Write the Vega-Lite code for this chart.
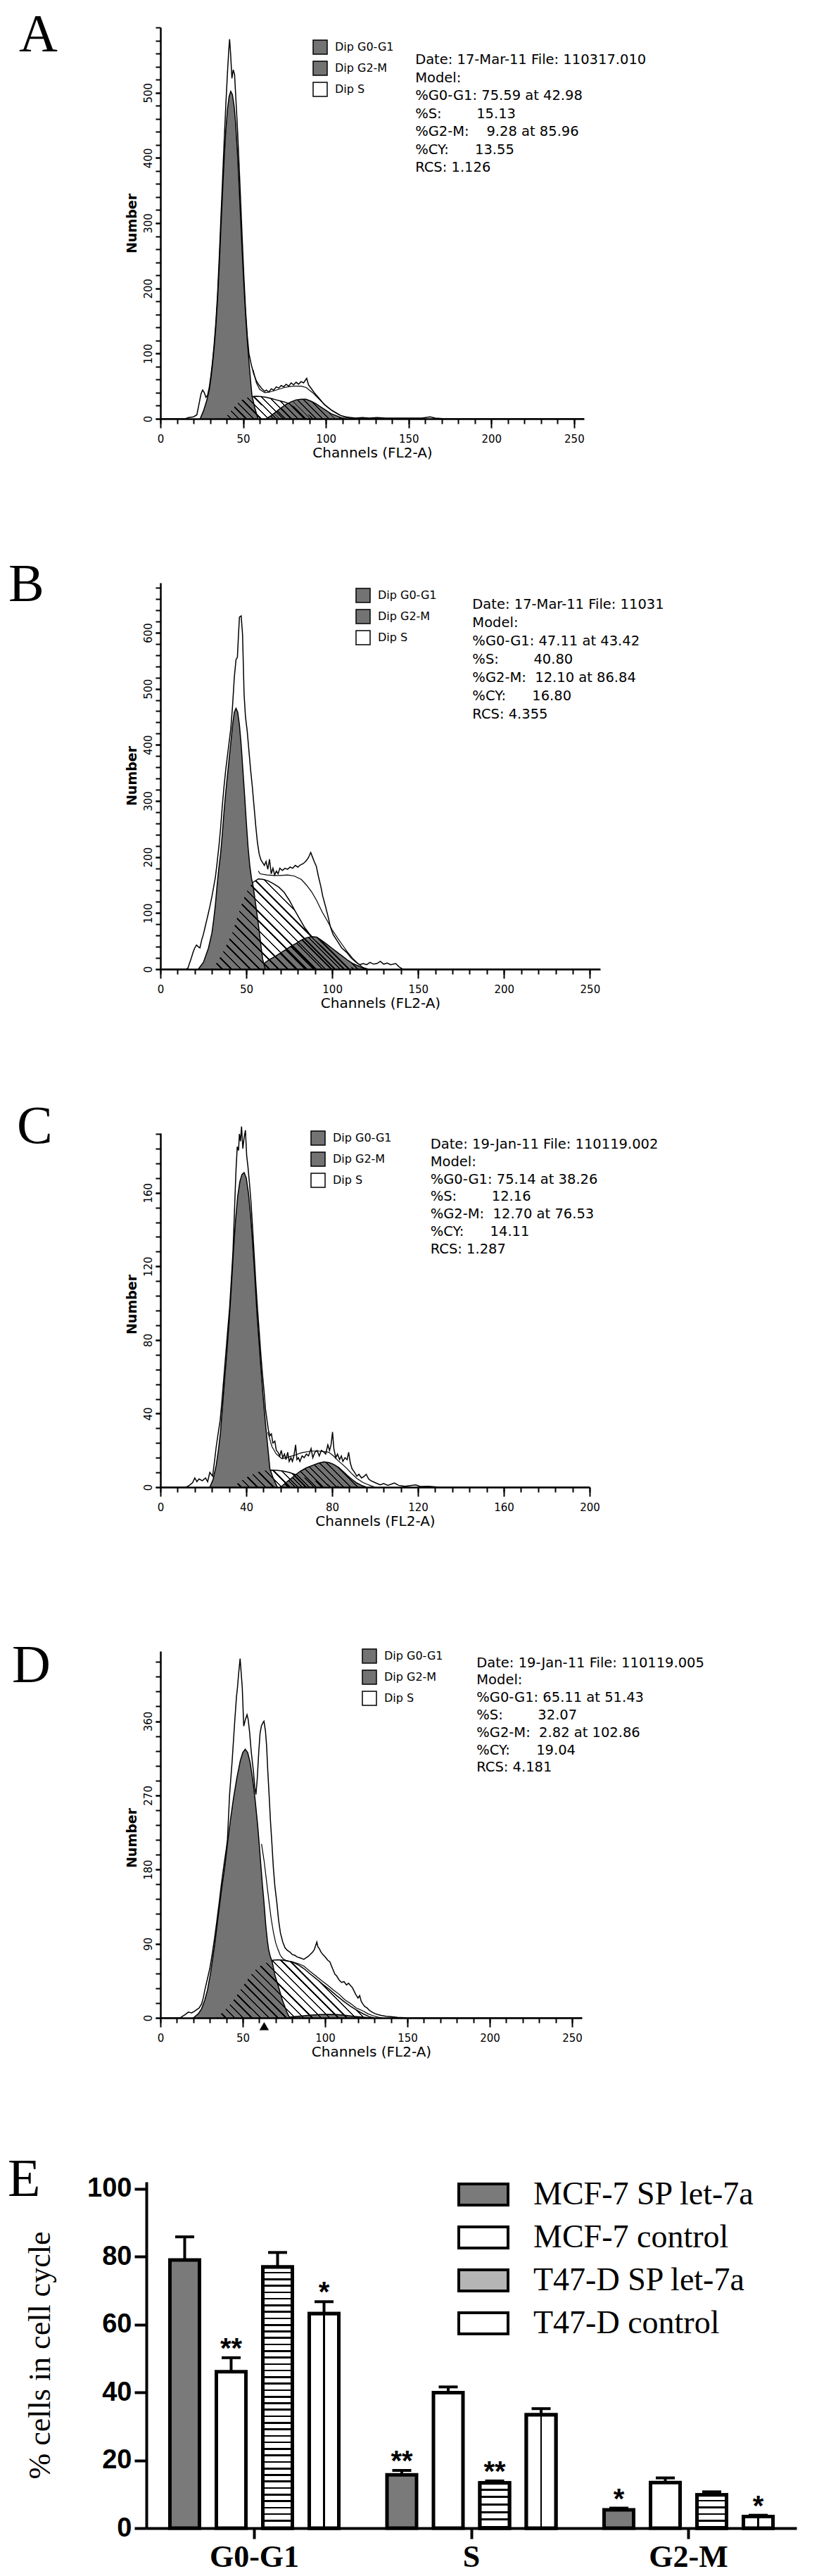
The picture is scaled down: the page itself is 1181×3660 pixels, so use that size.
{
"$schema": "https://vega.github.io/schema/vega-lite/v6.json",
"background": "white",
"padding": {"left": 11, "top": 12, "right": 5, "bottom": 0},
"bounds": "flush",
"spacing": 233,
"config": {"view": {"stroke": null}, "axis": {"domainColor": "black", "tickColor": "black", "labelColor": "black", "titleColor": "black", "grid": false}, "legend": {"labelColor": "black"}},
"resolve": {"scale": {"x": "independent", "y": "independent", "fill": "independent"}, "legend": {"fill": "independent"}, "axis": {"x": "independent", "y": "independent"}},
"datasets": {
"A_env": [{"ch":0,"n":0},{"ch":15,"n":0},{"ch":17,"n":2},{"ch":20,"n":3},{"ch":22,"n":6},{"ch":23.5,"n":25},{"ch":24.5,"n":38},{"ch":25.5,"n":44},{"ch":26.5,"n":40},{"ch":27.5,"n":33},{"ch":28.5,"n":36},{"ch":29.5,"n":48},{"ch":30.5,"n":66},{"ch":31.5,"n":88},{"ch":32.5,"n":115},{"ch":33.5,"n":148},{"ch":34.5,"n":190},{"ch":35.5,"n":245},{"ch":36.5,"n":305},{"ch":37.5,"n":365},{"ch":38.5,"n":425},{"ch":39.5,"n":480},{"ch":40.5,"n":530},{"ch":41.3,"n":565},{"ch":41.8,"n":582},{"ch":42.4,"n":560},{"ch":43.2,"n":522},{"ch":44,"n":535},{"ch":44.8,"n":528},{"ch":45.5,"n":495},{"ch":46.5,"n":448},{"ch":47.5,"n":392},{"ch":48.5,"n":333},{"ch":49.5,"n":272},{"ch":50.5,"n":215},{"ch":51.5,"n":165},{"ch":52.5,"n":127},{"ch":53.5,"n":100},{"ch":55,"n":82},{"ch":56.5,"n":68},{"ch":58,"n":58},{"ch":59.5,"n":52},{"ch":61,"n":47},{"ch":63,"n":42},{"ch":64,"n":44},{"ch":65.5,"n":41},{"ch":67,"n":46},{"ch":68.5,"n":44},{"ch":70,"n":49},{"ch":71.5,"n":47},{"ch":73,"n":51},{"ch":74.5,"n":49},{"ch":76,"n":53},{"ch":77.5,"n":50},{"ch":79,"n":55},{"ch":80.5,"n":52},{"ch":82,"n":56},{"ch":83.5,"n":53},{"ch":85,"n":57},{"ch":86.5,"n":55},{"ch":88.4,"n":62},{"ch":89.5,"n":52},{"ch":91,"n":47},{"ch":93,"n":40},{"ch":95,"n":34},{"ch":97,"n":28},{"ch":99,"n":22},{"ch":101,"n":18},{"ch":103,"n":14},{"ch":105,"n":11},{"ch":107,"n":8},{"ch":109,"n":5},{"ch":112,"n":3},{"ch":115,"n":2},{"ch":118,"n":1},{"ch":122,"n":2},{"ch":126,"n":1},{"ch":131,"n":2},{"ch":136,"n":1},{"ch":142,"n":1},{"ch":150,"n":1},{"ch":158,"n":1},{"ch":163,"n":3},{"ch":166,"n":1},{"ch":172,"n":0},{"ch":256,"n":0}],
"A_G1": [{"ch":24,"n":0},{"ch":26,"n":12},{"ch":28,"n":28},{"ch":29.5,"n":44},{"ch":30.5,"n":62},{"ch":31.5,"n":84},{"ch":32.5,"n":110},{"ch":33.5,"n":142},{"ch":34.5,"n":182},{"ch":35.5,"n":232},{"ch":36.5,"n":290},{"ch":37.5,"n":345},{"ch":38.5,"n":398},{"ch":39.5,"n":442},{"ch":40.5,"n":474},{"ch":41.5,"n":494},{"ch":42.5,"n":502},{"ch":43.5,"n":497},{"ch":44.5,"n":480},{"ch":45.5,"n":452},{"ch":46.5,"n":410},{"ch":47.5,"n":360},{"ch":48.5,"n":305},{"ch":49.5,"n":252},{"ch":50.5,"n":202},{"ch":51.5,"n":158},{"ch":52.5,"n":120},{"ch":53.5,"n":88},{"ch":54.5,"n":58},{"ch":55.3,"n":36},{"ch":57,"n":17},{"ch":59,"n":0}],
"A_S": [{"ch":38,"n":0},{"ch":40,"n":4},{"ch":42,"n":10},{"ch":44,"n":16},{"ch":46,"n":22},{"ch":48,"n":27},{"ch":50,"n":30},{"ch":52,"n":32},{"ch":55,"n":34},{"ch":58,"n":34.5},{"ch":61,"n":34},{"ch":64,"n":33},{"ch":67,"n":31},{"ch":70,"n":29},{"ch":73,"n":27},{"ch":76,"n":25},{"ch":80,"n":20},{"ch":84,"n":14},{"ch":88,"n":8},{"ch":92,"n":3},{"ch":96,"n":0}],
"A_G2": [{"ch":64,"n":0},{"ch":67,"n":5},{"ch":70,"n":11},{"ch":73,"n":17},{"ch":76,"n":22},{"ch":79,"n":26},{"ch":82,"n":29},{"ch":85,"n":30},{"ch":88,"n":30},{"ch":91,"n":27},{"ch":94,"n":23},{"ch":97,"n":18},{"ch":100,"n":13},{"ch":103,"n":8},{"ch":106,"n":5},{"ch":109,"n":2},{"ch":112,"n":0}],
"A_fit": [{"ch":56,"n":75},{"ch":58,"n":55},{"ch":60,"n":45},{"ch":63,"n":40},{"ch":66,"n":41},{"ch":70,"n":44},{"ch":75,"n":48},{"ch":80,"n":50},{"ch":85,"n":50},{"ch":88,"n":48},{"ch":92,"n":40},{"ch":96,"n":30},{"ch":100,"n":20},{"ch":104,"n":12},{"ch":108,"n":6},{"ch":112,"n":2},{"ch":116,"n":0}],
"B_env": [{"ch":0,"n":0},{"ch":15,"n":0},{"ch":16,"n":2},{"ch":18,"n":20},{"ch":19,"n":30},{"ch":20,"n":38},{"ch":21,"n":43},{"ch":22,"n":40},{"ch":23,"n":38},{"ch":24,"n":52},{"ch":25,"n":62},{"ch":26,"n":75},{"ch":27,"n":88},{"ch":28,"n":101},{"ch":29,"n":115},{"ch":30,"n":130},{"ch":31,"n":147},{"ch":32,"n":164},{"ch":33,"n":190},{"ch":34,"n":218},{"ch":35,"n":250},{"ch":36,"n":290},{"ch":37,"n":325},{"ch":38,"n":355},{"ch":39,"n":380},{"ch":40,"n":405},{"ch":41,"n":430},{"ch":42,"n":470},{"ch":43,"n":520},{"ch":44,"n":552},{"ch":44.8,"n":556},{"ch":45.5,"n":600},{"ch":46,"n":628},{"ch":47,"n":630},{"ch":47.8,"n":597},{"ch":48.7,"n":490},{"ch":49.5,"n":450},{"ch":50.5,"n":425},{"ch":51.5,"n":390},{"ch":52.5,"n":355},{"ch":53.5,"n":325},{"ch":54.5,"n":290},{"ch":55.5,"n":255},{"ch":56.5,"n":225},{"ch":57.5,"n":205},{"ch":58.5,"n":195},{"ch":59.5,"n":190},{"ch":60.5,"n":185},{"ch":61.5,"n":192},{"ch":62.5,"n":178},{"ch":63.5,"n":196},{"ch":64.5,"n":170},{"ch":65.5,"n":180},{"ch":66.5,"n":168},{"ch":67.5,"n":175},{"ch":68.5,"n":170},{"ch":69.5,"n":180},{"ch":71,"n":176},{"ch":72.5,"n":180},{"ch":74,"n":178},{"ch":75.5,"n":182},{"ch":77,"n":180},{"ch":78.5,"n":185},{"ch":80,"n":182},{"ch":81.5,"n":186},{"ch":83,"n":188},{"ch":84.5,"n":192},{"ch":86,"n":198},{"ch":87.5,"n":208},{"ch":88.5,"n":200},{"ch":89.5,"n":192},{"ch":90.7,"n":184},{"ch":92,"n":165},{"ch":93.4,"n":147},{"ch":94.5,"n":130},{"ch":96,"n":113},{"ch":97.5,"n":95},{"ch":98.9,"n":76},{"ch":100.5,"n":62},{"ch":103,"n":50},{"ch":105.5,"n":38},{"ch":108.4,"n":30},{"ch":111,"n":20},{"ch":114,"n":12},{"ch":116,"n":8},{"ch":118,"n":10},{"ch":120,"n":8},{"ch":122,"n":12},{"ch":124,"n":9},{"ch":126,"n":10},{"ch":128,"n":14},{"ch":130,"n":9},{"ch":132,"n":11},{"ch":134,"n":8},{"ch":137,"n":10},{"ch":139,"n":4},{"ch":141,"n":0},{"ch":256,"n":0}],
"B_G1": [{"ch":22,"n":0},{"ch":25,"n":12},{"ch":28,"n":38},{"ch":30,"n":65},{"ch":31,"n":88},{"ch":32,"n":115},{"ch":33,"n":150},{"ch":34,"n":180},{"ch":35,"n":205},{"ch":36,"n":240},{"ch":37,"n":280},{"ch":38,"n":315},{"ch":39,"n":345},{"ch":40,"n":375},{"ch":41,"n":405},{"ch":42,"n":435},{"ch":43,"n":458},{"ch":44,"n":465},{"ch":45,"n":458},{"ch":46,"n":435},{"ch":47,"n":400},{"ch":48,"n":355},{"ch":49,"n":310},{"ch":50,"n":262},{"ch":51,"n":218},{"ch":52,"n":185},{"ch":53,"n":162},{"ch":54,"n":148},{"ch":57,"n":80},{"ch":59.5,"n":18},{"ch":61,"n":0}],
"B_S": [{"ch":30,"n":0},{"ch":33,"n":12},{"ch":36,"n":28},{"ch":39,"n":46},{"ch":42,"n":66},{"ch":45,"n":95},{"ch":48,"n":122},{"ch":51,"n":143},{"ch":54,"n":155},{"ch":57,"n":161},{"ch":60,"n":160},{"ch":63,"n":157},{"ch":66,"n":152},{"ch":69,"n":146},{"ch":72,"n":137},{"ch":75,"n":123},{"ch":78,"n":106},{"ch":81,"n":90},{"ch":84,"n":74},{"ch":87,"n":62},{"ch":90,"n":52},{"ch":93,"n":44},{"ch":96,"n":36},{"ch":99,"n":29},{"ch":102,"n":22},{"ch":105,"n":15},{"ch":108,"n":9},{"ch":111,"n":4},{"ch":114,"n":0}],
"B_G2": [{"ch":58,"n":0},{"ch":61,"n":12},{"ch":64,"n":18},{"ch":67,"n":23},{"ch":70,"n":29},{"ch":73,"n":35},{"ch":76,"n":41},{"ch":79,"n":46},{"ch":82,"n":52},{"ch":85,"n":56},{"ch":88,"n":58},{"ch":91,"n":57},{"ch":94,"n":51},{"ch":97,"n":44},{"ch":100,"n":37},{"ch":103,"n":30},{"ch":106,"n":23},{"ch":109,"n":16},{"ch":112,"n":10},{"ch":115,"n":6},{"ch":118,"n":2},{"ch":121,"n":0}],
"B_fit": [{"ch":57,"n":175},{"ch":58,"n":170},{"ch":62,"n":168},{"ch":66,"n":167},{"ch":70,"n":167},{"ch":74,"n":168},{"ch":78,"n":166},{"ch":82,"n":160},{"ch":85,"n":150},{"ch":88,"n":138},{"ch":91,"n":122},{"ch":94,"n":103},{"ch":97,"n":87},{"ch":100,"n":70},{"ch":103,"n":56},{"ch":106,"n":43},{"ch":109,"n":30},{"ch":112,"n":19},{"ch":115,"n":10},{"ch":118,"n":3},{"ch":121,"n":0}],
"C_env": [{"ch":0,"n":0},{"ch":12,"n":0},{"ch":13.5,"n":1},{"ch":15,"n":2.5},{"ch":16,"n":5},{"ch":17,"n":3},{"ch":18,"n":4.5},{"ch":19.5,"n":3.5},{"ch":21,"n":5},{"ch":22,"n":3},{"ch":23,"n":8},{"ch":24.3,"n":6},{"ch":25.2,"n":14},{"ch":26,"n":22},{"ch":27,"n":30},{"ch":27.8,"n":36},{"ch":28.6,"n":46},{"ch":29.3,"n":56},{"ch":30,"n":66},{"ch":30.7,"n":76},{"ch":31.4,"n":86},{"ch":32.2,"n":97},{"ch":33,"n":112},{"ch":33.8,"n":128},{"ch":34.5,"n":150},{"ch":35.2,"n":172},{"ch":35.8,"n":185},{"ch":36.4,"n":183},{"ch":36.8,"n":192},{"ch":37.3,"n":188},{"ch":37.8,"n":196},{"ch":38.4,"n":184},{"ch":39,"n":190},{"ch":39.6,"n":194},{"ch":40.2,"n":180},{"ch":40.8,"n":174},{"ch":41.5,"n":165},{"ch":42.2,"n":155},{"ch":43,"n":140},{"ch":43.7,"n":126},{"ch":44.5,"n":110},{"ch":45.3,"n":96},{"ch":46,"n":85},{"ch":46.8,"n":72},{"ch":47.5,"n":62},{"ch":48.3,"n":52},{"ch":49,"n":42},{"ch":49.7,"n":36},{"ch":50.3,"n":31},{"ch":51,"n":28},{"ch":51.7,"n":29},{"ch":52.4,"n":24},{"ch":53.3,"n":25},{"ch":54,"n":20},{"ch":54.8,"n":19},{"ch":55.6,"n":17},{"ch":56.3,"n":20},{"ch":57,"n":16},{"ch":57.8,"n":18},{"ch":58.5,"n":15},{"ch":59.3,"n":19},{"ch":60,"n":14},{"ch":60.8,"n":16},{"ch":61.5,"n":14},{"ch":62.2,"n":17},{"ch":63,"n":23},{"ch":63.6,"n":15},{"ch":64.3,"n":16},{"ch":65,"n":14},{"ch":66,"n":17},{"ch":67,"n":16},{"ch":68,"n":18},{"ch":69,"n":17},{"ch":70.2,"n":21},{"ch":71,"n":16},{"ch":72,"n":19},{"ch":73,"n":20},{"ch":74,"n":17},{"ch":75,"n":20},{"ch":76.2,"n":19},{"ch":77,"n":18},{"ch":78,"n":23},{"ch":78.8,"n":20},{"ch":79.5,"n":23},{"ch":80.2,"n":30},{"ch":80.8,"n":21},{"ch":81.7,"n":16},{"ch":82.5,"n":18},{"ch":83.5,"n":15},{"ch":84.3,"n":17},{"ch":85,"n":14},{"ch":86,"n":16},{"ch":87,"n":15},{"ch":87.7,"n":19},{"ch":88.5,"n":13},{"ch":89.3,"n":10},{"ch":90.5,"n":8},{"ch":91.5,"n":6},{"ch":92.5,"n":7},{"ch":93.7,"n":5},{"ch":95,"n":6},{"ch":95.9,"n":7},{"ch":97,"n":4.5},{"ch":98,"n":3.6},{"ch":100,"n":2.5},{"ch":102.4,"n":1.3},{"ch":104,"n":2},{"ch":106,"n":1},{"ch":109,"n":2.3},{"ch":111,"n":1},{"ch":114,"n":0.5},{"ch":117,"n":1},{"ch":119,"n":1.2},{"ch":121,"n":0.4},{"ch":125,"n":0.5},{"ch":130,"n":0},{"ch":200,"n":0}],
"C_G1": [{"ch":23,"n":0},{"ch":24.5,"n":4},{"ch":26,"n":12},{"ch":27,"n":20},{"ch":28,"n":30},{"ch":29,"n":45},{"ch":30,"n":60},{"ch":31,"n":74},{"ch":32,"n":90},{"ch":33,"n":108},{"ch":34,"n":128},{"ch":35,"n":145},{"ch":36,"n":158},{"ch":37,"n":166},{"ch":38,"n":170},{"ch":39,"n":171},{"ch":40,"n":168},{"ch":41,"n":160},{"ch":42,"n":148},{"ch":43,"n":132},{"ch":44,"n":114},{"ch":45,"n":94},{"ch":46,"n":78},{"ch":47,"n":62},{"ch":48,"n":47},{"ch":49,"n":34},{"ch":50,"n":22},{"ch":51,"n":10},{"ch":52.5,"n":5},{"ch":54.5,"n":0}],
"C_S": [{"ch":33.5,"n":0},{"ch":36,"n":2},{"ch":39,"n":4.5},{"ch":42,"n":6.5},{"ch":45,"n":8},{"ch":48,"n":9},{"ch":51,"n":9.3},{"ch":54,"n":9.2},{"ch":57,"n":8.8},{"ch":60,"n":8},{"ch":63,"n":6.8},{"ch":66,"n":5.6},{"ch":69,"n":4.6},{"ch":72,"n":3.5},{"ch":75,"n":2.5},{"ch":78,"n":1.7},{"ch":81,"n":1},{"ch":84,"n":0.4},{"ch":86,"n":0}],
"C_G2": [{"ch":56,"n":0},{"ch":58.5,"n":2.5},{"ch":61,"n":4.8},{"ch":63,"n":6.8},{"ch":65.3,"n":8.7},{"ch":68,"n":10.5},{"ch":70.8,"n":11.8},{"ch":73.5,"n":13},{"ch":76.2,"n":13.8},{"ch":78.5,"n":13.4},{"ch":80.6,"n":12.5},{"ch":83,"n":10.8},{"ch":85,"n":8.7},{"ch":87,"n":6.5},{"ch":89.3,"n":4.2},{"ch":91.5,"n":2.3},{"ch":93.7,"n":1},{"ch":96,"n":0}],
"C_fit": [{"ch":50,"n":30},{"ch":52,"n":22},{"ch":54,"n":18},{"ch":56.6,"n":15.5},{"ch":60,"n":16.5},{"ch":63,"n":17.6},{"ch":66,"n":18.8},{"ch":69.7,"n":19.5},{"ch":72.5,"n":19.7},{"ch":75.1,"n":19.5},{"ch":78.4,"n":19},{"ch":80.6,"n":17},{"ch":82.8,"n":14.4},{"ch":85,"n":12.2},{"ch":87,"n":10},{"ch":89,"n":7.5},{"ch":91.5,"n":4.8},{"ch":94,"n":2.8},{"ch":96,"n":1.7},{"ch":98,"n":0.8},{"ch":100,"n":0}],
"D_env": [{"ch":0,"n":0},{"ch":12,"n":0},{"ch":13,"n":1.4},{"ch":15,"n":4},{"ch":17,"n":7},{"ch":19,"n":6},{"ch":20.7,"n":8},{"ch":22,"n":10},{"ch":23.5,"n":12},{"ch":25,"n":17},{"ch":26,"n":24},{"ch":27,"n":34},{"ch":28.5,"n":47},{"ch":30,"n":60},{"ch":31.5,"n":78},{"ch":32.9,"n":97},{"ch":34.3,"n":118},{"ch":35.7,"n":140},{"ch":37,"n":162},{"ch":38.6,"n":186},{"ch":40,"n":205},{"ch":40.7,"n":216},{"ch":42,"n":271},{"ch":43.5,"n":310},{"ch":45.2,"n":362},{"ch":46.2,"n":390},{"ch":46.8,"n":401},{"ch":47.6,"n":420},{"ch":48.4,"n":436},{"ch":49,"n":420},{"ch":49.7,"n":401},{"ch":50.6,"n":354},{"ch":51.6,"n":362},{"ch":52.6,"n":368},{"ch":53.3,"n":362},{"ch":54.2,"n":346},{"ch":55.2,"n":322},{"ch":56.5,"n":299},{"ch":57.3,"n":280},{"ch":58,"n":271},{"ch":58.8,"n":290},{"ch":59.7,"n":322},{"ch":60.5,"n":345},{"ch":61.3,"n":354},{"ch":62.2,"n":358},{"ch":62.9,"n":360},{"ch":63.8,"n":348},{"ch":64.5,"n":330},{"ch":65.2,"n":300},{"ch":66,"n":271},{"ch":66.8,"n":240},{"ch":67.7,"n":212},{"ch":68.6,"n":182},{"ch":69.5,"n":160},{"ch":70.7,"n":140},{"ch":71.8,"n":118},{"ch":72.9,"n":103},{"ch":74.3,"n":92},{"ch":75.7,"n":85},{"ch":77,"n":82},{"ch":78.5,"n":80},{"ch":80,"n":77},{"ch":81.5,"n":76},{"ch":83,"n":74},{"ch":84.5,"n":73},{"ch":86,"n":72},{"ch":87,"n":71},{"ch":88.5,"n":73},{"ch":90,"n":75},{"ch":91.5,"n":78},{"ch":92.5,"n":80},{"ch":93.5,"n":83},{"ch":94.3,"n":88},{"ch":95,"n":92},{"ch":95.7,"n":86},{"ch":96.5,"n":84},{"ch":97.5,"n":80},{"ch":98.6,"n":77},{"ch":100,"n":74},{"ch":101.6,"n":70},{"ch":102.9,"n":68},{"ch":104.5,"n":60},{"ch":106,"n":53},{"ch":107,"n":51},{"ch":108.5,"n":46},{"ch":110,"n":43},{"ch":111.5,"n":44},{"ch":113,"n":40},{"ch":114.3,"n":42},{"ch":115.5,"n":39},{"ch":116.5,"n":37},{"ch":117.5,"n":33},{"ch":118.6,"n":28.5},{"ch":120,"n":24},{"ch":121,"n":27},{"ch":122,"n":20},{"ch":122.9,"n":17},{"ch":124,"n":14},{"ch":125.5,"n":12},{"ch":127,"n":9},{"ch":128.6,"n":7},{"ch":130.5,"n":5},{"ch":132,"n":4},{"ch":134,"n":3},{"ch":137,"n":2},{"ch":140,"n":1.5},{"ch":144,"n":0.6},{"ch":150,"n":0},{"ch":256,"n":0}],
"D_G1": [{"ch":20,"n":0},{"ch":23,"n":5},{"ch":25,"n":11},{"ch":27,"n":22},{"ch":28.6,"n":34},{"ch":30.5,"n":55},{"ch":32.9,"n":88},{"ch":35,"n":122},{"ch":37,"n":154},{"ch":39,"n":182},{"ch":40.7,"n":211},{"ch":42.5,"n":240},{"ch":44.5,"n":268},{"ch":46.5,"n":292},{"ch":48.5,"n":312},{"ch":50,"n":322},{"ch":51.5,"n":326},{"ch":53,"n":322},{"ch":54.5,"n":310},{"ch":56,"n":290},{"ch":57.5,"n":265},{"ch":59,"n":235},{"ch":60,"n":211},{"ch":61,"n":185},{"ch":62,"n":160},{"ch":62.9,"n":140},{"ch":64,"n":112},{"ch":65,"n":93},{"ch":65.7,"n":83},{"ch":66.8,"n":74},{"ch":67.9,"n":68},{"ch":69.5,"n":52},{"ch":71.4,"n":40},{"ch":74,"n":22},{"ch":77,"n":6},{"ch":78.6,"n":0}],
"D_S": [{"ch":34,"n":0},{"ch":37.5,"n":6},{"ch":41.4,"n":14},{"ch":45,"n":23},{"ch":48.6,"n":34},{"ch":52,"n":44},{"ch":55.7,"n":54},{"ch":59,"n":61},{"ch":62.9,"n":65.5},{"ch":66,"n":68.5},{"ch":68.6,"n":70},{"ch":71.5,"n":70.5},{"ch":74.3,"n":70},{"ch":77,"n":69},{"ch":80,"n":68},{"ch":83.5,"n":64.5},{"ch":87,"n":60},{"ch":90.5,"n":54},{"ch":94.3,"n":48},{"ch":98.5,"n":41},{"ch":102.9,"n":34},{"ch":107,"n":27},{"ch":111.4,"n":20},{"ch":115.5,"n":14},{"ch":120,"n":8.5},{"ch":123.5,"n":4.5},{"ch":127,"n":1.4},{"ch":130,"n":0}],
"D_G2": [{"ch":74,"n":0},{"ch":80,"n":1.2},{"ch":86,"n":2.4},{"ch":92,"n":3.4},{"ch":97,"n":4},{"ch":102,"n":4.3},{"ch":107,"n":4},{"ch":112,"n":3.2},{"ch":117,"n":2},{"ch":122,"n":1},{"ch":128,"n":0}],
"D_fit": [{"ch":61.4,"n":211},{"ch":63,"n":190},{"ch":64.5,"n":165},{"ch":66,"n":140},{"ch":67.3,"n":120},{"ch":68.6,"n":104},{"ch":70,"n":91},{"ch":71.4,"n":83},{"ch":72.8,"n":76},{"ch":74.3,"n":72},{"ch":76,"n":70},{"ch":78,"n":69},{"ch":80,"n":68},{"ch":83.5,"n":66},{"ch":87,"n":63},{"ch":90.5,"n":57},{"ch":94.3,"n":51},{"ch":98,"n":45},{"ch":101.4,"n":40},{"ch":105,"n":34},{"ch":108.6,"n":28.5},{"ch":112,"n":22},{"ch":115.7,"n":17},{"ch":119,"n":12},{"ch":122.9,"n":8.5},{"ch":126,"n":5},{"ch":128.6,"n":3},{"ch":132,"n":1},{"ch":135,"n":0}],
"E": [
{"phase":"G0-G1","group":"MCF-7 SP let-7a","mean":79.0,"hi":85.8,"sig":""},
{"phase":"G0-G1","group":"MCF-7 control","mean":46.1,"hi":50.2,"sig":"**"},
{"phase":"G0-G1","group":"T47-D SP let-7a","mean":76.9,"hi":81.2,"sig":""},
{"phase":"G0-G1","group":"T47-D control","mean":63.2,"hi":66.7,"sig":"*"},
{"phase":"S","group":"MCF-7 SP let-7a","mean":15.7,"hi":17.0,"sig":"**"},
{"phase":"S","group":"MCF-7 control","mean":39.9,"hi":41.6,"sig":""},
{"phase":"S","group":"T47-D SP let-7a","mean":13.3,"hi":13.9,"sig":"**"},
{"phase":"S","group":"T47-D control","mean":33.4,"hi":35.2,"sig":""},
{"phase":"G2-M","group":"MCF-7 SP let-7a","mean":5.4,"hi":5.9,"sig":"*"},
{"phase":"G2-M","group":"MCF-7 control","mean":13.4,"hi":14.8,"sig":""},
{"phase":"G2-M","group":"T47-D SP let-7a","mean":9.8,"hi":10.7,"sig":""},
{"phase":"G2-M","group":"T47-D control","mean":3.4,"hi":3.8,"sig":"*"}
]
},
"vconcat": [
{
"width": 602, "height": 556,
"resolve": {"axis": {"x": "independent", "y": "independent"}},
"layer": [
{"data": {"name": "A_env"}, "mark": {"type": "area", "fill": "white", "stroke": "black", "strokeWidth": 1.5},
 "encoding": {
  "x": {"field": "ch", "type": "quantitative", "scale": {"domain": [0, 256], "nice": false, "zero": false},
        "axis": {"title": "Channels (FL2-A)", "values": [0,50,100,150,200,250], "labelFont": "DejaVu Sans", "labelFontSize": 15, "labelPadding": 8, "tickSize": 13, "tickWidth": 2, "domainWidth": 2.5, "titleFont": "DejaVu Sans", "titleFontSize": 20, "titleFontWeight": "normal", "titlePadding": 2, "labelFlush": false}},
  "y": {"field": "n", "type": "quantitative", "stack": null, "scale": {"domain": [0, 600], "nice": false},
        "axis": {"title": "Number", "values": [0,100,200,300,400,500], "labelAngle": 270, "labelFont": "DejaVu Sans", "labelFontSize": 15, "labelPadding": 3, "tickSize": 7, "tickWidth": 2, "domainWidth": 2.5, "titleFont": "DejaVu Sans", "titleFontSize": 19, "titleFontWeight": "bold", "titleX": -41, "titleY": 278, "titleAngle": 270, "titleBaseline": "middle", "labelFlush": false}}}},
{"data": {"name": "A_S"}, "mark": {"type": "area", "stroke": "black", "strokeWidth": 1.5},
 "encoding": {
  "x": {"field": "ch", "type": "quantitative", "axis": {"orient": "bottom", "values": [0,10,20,30,40,50,60,70,80,90,100,110,120,130,140,150,160,170,180,190,200,210,220,230,240,250], "labels": false, "domain": false, "title": null, "tickSize": 7, "tickWidth": 2}},
  "y": {"field": "n", "type": "quantitative", "stack": null, "axis": {"orient": "left", "values": [0,20,40,60,80,100,120,140,160,180,200,220,240,260,280,300,320,340,360,380,400,420,440,460,480,500,520,540,560,580,600], "labels": false, "domain": false, "title": null, "tickSize": 7, "tickWidth": 2}},
  "fill": {"datum": "Dip S", "type": "nominal", "scale": {"domain": ["Dip G0-G1", "Dip G2-M", "Dip S"], "range": ["#737373", "#737373", "white"]},
           "legend": {"orient": "none", "legendX": 216, "legendY": 17, "title": null, "symbolType": "square", "symbolSize": 400, "symbolStrokeColor": "black", "symbolStrokeWidth": 1.5, "labelFont": "DejaVu Sans", "labelFontSize": 16, "labelOffset": 10, "rowPadding": 4}}}},
{"data": {"name": "A_G2"}, "mark": {"type": "area", "stroke": "black", "strokeWidth": 1.5},
 "encoding": {"x": {"field": "ch", "type": "quantitative", "axis": null}, "y": {"field": "n", "type": "quantitative", "stack": null, "axis": null}, "fill": {"datum": "Dip G2-M", "type": "nominal"}}},
{"data": {"name": "A_G1"}, "mark": {"type": "area", "stroke": "black", "strokeWidth": 1.5},
 "encoding": {"x": {"field": "ch", "type": "quantitative", "axis": null}, "y": {"field": "n", "type": "quantitative", "stack": null, "axis": null}, "fill": {"datum": "Dip G0-G1", "type": "nominal"}}},
{"data": {"name": "A_S"}, "mark": {"type": "area", "fill": {"gradient": "linear", "x1": 0, "y1": 1, "x2": 1.17, "y2": 0.7255, "stops": [{"offset":0,"color":"#000"},{"offset":0.0125,"color":"#000"},{"offset":0.0125,"color":"rgba(0,0,0,0)"},{"offset":0.0625,"color":"rgba(0,0,0,0)"},{"offset":0.0625,"color":"#000"},{"offset":0.075,"color":"#000"},{"offset":0.075,"color":"rgba(0,0,0,0)"},{"offset":0.125,"color":"rgba(0,0,0,0)"},{"offset":0.125,"color":"#000"},{"offset":0.1375,"color":"#000"},{"offset":0.1375,"color":"rgba(0,0,0,0)"},{"offset":0.1875,"color":"rgba(0,0,0,0)"},{"offset":0.1875,"color":"#000"},{"offset":0.2,"color":"#000"},{"offset":0.2,"color":"rgba(0,0,0,0)"},{"offset":0.25,"color":"rgba(0,0,0,0)"},{"offset":0.25,"color":"#000"},{"offset":0.2625,"color":"#000"},{"offset":0.2625,"color":"rgba(0,0,0,0)"},{"offset":0.3125,"color":"rgba(0,0,0,0)"},{"offset":0.3125,"color":"#000"},{"offset":0.325,"color":"#000"},{"offset":0.325,"color":"rgba(0,0,0,0)"},{"offset":0.375,"color":"rgba(0,0,0,0)"},{"offset":0.375,"color":"#000"},{"offset":0.3875,"color":"#000"},{"offset":0.3875,"color":"rgba(0,0,0,0)"},{"offset":0.4375,"color":"rgba(0,0,0,0)"},{"offset":0.4375,"color":"#000"},{"offset":0.45,"color":"#000"},{"offset":0.45,"color":"rgba(0,0,0,0)"},{"offset":0.5,"color":"rgba(0,0,0,0)"},{"offset":0.5,"color":"#000"},{"offset":0.5125,"color":"#000"},{"offset":0.5125,"color":"rgba(0,0,0,0)"},{"offset":0.5625,"color":"rgba(0,0,0,0)"},{"offset":0.5625,"color":"#000"},{"offset":0.575,"color":"#000"},{"offset":0.575,"color":"rgba(0,0,0,0)"},{"offset":0.625,"color":"rgba(0,0,0,0)"},{"offset":0.625,"color":"#000"},{"offset":0.6375,"color":"#000"},{"offset":0.6375,"color":"rgba(0,0,0,0)"},{"offset":0.6875,"color":"rgba(0,0,0,0)"},{"offset":0.6875,"color":"#000"},{"offset":0.7,"color":"#000"},{"offset":0.7,"color":"rgba(0,0,0,0)"},{"offset":0.75,"color":"rgba(0,0,0,0)"},{"offset":0.75,"color":"#000"},{"offset":0.7625,"color":"#000"},{"offset":0.7625,"color":"rgba(0,0,0,0)"},{"offset":0.8125,"color":"rgba(0,0,0,0)"},{"offset":0.8125,"color":"#000"},{"offset":0.825,"color":"#000"},{"offset":0.825,"color":"rgba(0,0,0,0)"},{"offset":0.875,"color":"rgba(0,0,0,0)"},{"offset":0.875,"color":"#000"},{"offset":0.8875,"color":"#000"},{"offset":0.8875,"color":"rgba(0,0,0,0)"},{"offset":0.9375,"color":"rgba(0,0,0,0)"},{"offset":0.9375,"color":"#000"},{"offset":0.95,"color":"#000"},{"offset":0.95,"color":"rgba(0,0,0,0)"},{"offset":1,"color":"rgba(0,0,0,0)"}]}},
 "encoding": {"x": {"field": "ch", "type": "quantitative", "axis": null}, "y": {"field": "n", "type": "quantitative", "stack": null, "axis": null}}},
{"data": {"name": "A_G2"}, "mark": {"type": "area", "fill": {"gradient": "linear", "x1": 0, "y1": 1, "x2": 1.175, "y2": 0.711, "stops": [{"offset":0,"color":"#000"},{"offset":0.0125,"color":"#000"},{"offset":0.0125,"color":"rgba(0,0,0,0)"},{"offset":0.0625,"color":"rgba(0,0,0,0)"},{"offset":0.0625,"color":"#000"},{"offset":0.075,"color":"#000"},{"offset":0.075,"color":"rgba(0,0,0,0)"},{"offset":0.125,"color":"rgba(0,0,0,0)"},{"offset":0.125,"color":"#000"},{"offset":0.1375,"color":"#000"},{"offset":0.1375,"color":"rgba(0,0,0,0)"},{"offset":0.1875,"color":"rgba(0,0,0,0)"},{"offset":0.1875,"color":"#000"},{"offset":0.2,"color":"#000"},{"offset":0.2,"color":"rgba(0,0,0,0)"},{"offset":0.25,"color":"rgba(0,0,0,0)"},{"offset":0.25,"color":"#000"},{"offset":0.2625,"color":"#000"},{"offset":0.2625,"color":"rgba(0,0,0,0)"},{"offset":0.3125,"color":"rgba(0,0,0,0)"},{"offset":0.3125,"color":"#000"},{"offset":0.325,"color":"#000"},{"offset":0.325,"color":"rgba(0,0,0,0)"},{"offset":0.375,"color":"rgba(0,0,0,0)"},{"offset":0.375,"color":"#000"},{"offset":0.3875,"color":"#000"},{"offset":0.3875,"color":"rgba(0,0,0,0)"},{"offset":0.4375,"color":"rgba(0,0,0,0)"},{"offset":0.4375,"color":"#000"},{"offset":0.45,"color":"#000"},{"offset":0.45,"color":"rgba(0,0,0,0)"},{"offset":0.5,"color":"rgba(0,0,0,0)"},{"offset":0.5,"color":"#000"},{"offset":0.5125,"color":"#000"},{"offset":0.5125,"color":"rgba(0,0,0,0)"},{"offset":0.5625,"color":"rgba(0,0,0,0)"},{"offset":0.5625,"color":"#000"},{"offset":0.575,"color":"#000"},{"offset":0.575,"color":"rgba(0,0,0,0)"},{"offset":0.625,"color":"rgba(0,0,0,0)"},{"offset":0.625,"color":"#000"},{"offset":0.6375,"color":"#000"},{"offset":0.6375,"color":"rgba(0,0,0,0)"},{"offset":0.6875,"color":"rgba(0,0,0,0)"},{"offset":0.6875,"color":"#000"},{"offset":0.7,"color":"#000"},{"offset":0.7,"color":"rgba(0,0,0,0)"},{"offset":0.75,"color":"rgba(0,0,0,0)"},{"offset":0.75,"color":"#000"},{"offset":0.7625,"color":"#000"},{"offset":0.7625,"color":"rgba(0,0,0,0)"},{"offset":0.8125,"color":"rgba(0,0,0,0)"},{"offset":0.8125,"color":"#000"},{"offset":0.825,"color":"#000"},{"offset":0.825,"color":"rgba(0,0,0,0)"},{"offset":0.875,"color":"rgba(0,0,0,0)"},{"offset":0.875,"color":"#000"},{"offset":0.8875,"color":"#000"},{"offset":0.8875,"color":"rgba(0,0,0,0)"},{"offset":0.9375,"color":"rgba(0,0,0,0)"},{"offset":0.9375,"color":"#000"},{"offset":0.95,"color":"#000"},{"offset":0.95,"color":"rgba(0,0,0,0)"},{"offset":1,"color":"rgba(0,0,0,0)"}]}},
 "encoding": {"x": {"field": "ch", "type": "quantitative", "axis": null}, "y": {"field": "n", "type": "quantitative", "stack": null, "axis": null}}},
{"data": {"name": "A_fit"}, "mark": {"type": "line", "color": "black", "strokeWidth": 1.2},
 "encoding": {"x": {"field": "ch", "type": "quantitative", "axis": null}, "y": {"field": "n", "type": "quantitative", "stack": null, "axis": null}}},
{"data": {"values": [{}]}, "mark": {"type": "text", "text": "A", "align": "left", "baseline": "alphabetic", "font": "Liberation Serif", "fontSize": 76, "color": "black"},
 "encoding": {"x": {"datum": -85.5, "axis": null}, "y": {"datum": 563, "axis": null}}},
{"data": {"values": [{}]}, "mark": {"type": "text", "align": "left", "baseline": "top", "font": "DejaVu Sans", "fontSize": 19.5, "lineHeight": 25.5, "color": "black",
  "text": ["Date: 17-Mar-11 File: 110317.010", "Model:", "\u00a0%G0-G1: 75.59 at 42.98", "\u00a0%S:\u00a0\u00a0\u00a0\u00a0\u00a0\u00a0\u00a0\u00a015.13", "\u00a0%G2-M:\u00a0\u00a0\u00a0\u00a09.28 at 85.96", "\u00a0%CY:\u00a0\u00a0\u00a0\u00a0\u00a0\u00a013.55", "RCS: 1.126"]},
 "encoding": {"x": {"datum": 154, "axis": null}, "y": {"datum": 560, "axis": null}}}
]
},
{
"width": 625, "height": 549,
"resolve": {"axis": {"x": "independent", "y": "independent"}},
"layer": [
{"data": {"name": "B_env"}, "mark": {"type": "area", "fill": "white", "stroke": "black", "strokeWidth": 1.5},
 "encoding": {
  "x": {"field": "ch", "type": "quantitative", "scale": {"domain": [0, 256], "nice": false, "zero": false},
        "axis": {"title": "Channels (FL2-A)", "values": [0,50,100,150,200,250], "labelFont": "DejaVu Sans", "labelFontSize": 15, "labelPadding": 8, "tickSize": 13, "tickWidth": 2, "domainWidth": 2.5, "titleFont": "DejaVu Sans", "titleFontSize": 20, "titleFontWeight": "normal", "titlePadding": 2, "labelFlush": false}},
  "y": {"field": "n", "type": "quantitative", "stack": null, "scale": {"domain": [0, 689], "nice": false},
        "axis": {"title": "Number", "values": [0,100,200,300,400,500,600], "labelAngle": 270, "labelFont": "DejaVu Sans", "labelFontSize": 15, "labelPadding": 3, "tickSize": 7, "tickWidth": 2, "domainWidth": 2.5, "titleFont": "DejaVu Sans", "titleFontSize": 19, "titleFontWeight": "bold", "titleX": -41, "titleY": 274, "titleAngle": 270, "titleBaseline": "middle", "labelFlush": false}}}},
{"data": {"name": "B_S"}, "mark": {"type": "area", "stroke": "black", "strokeWidth": 1.5},
 "encoding": {
  "x": {"field": "ch", "type": "quantitative", "axis": {"orient": "bottom", "values": [0,10,20,30,40,50,60,70,80,90,100,110,120,130,140,150,160,170,180,190,200,210,220,230,240,250], "labels": false, "domain": false, "title": null, "tickSize": 7, "tickWidth": 2}},
  "y": {"field": "n", "type": "quantitative", "stack": null, "axis": {"orient": "left", "values": [0,20,40,60,80,100,120,140,160,180,200,220,240,260,280,300,320,340,360,380,400,420,440,460,480,500,520,540,560,580,600,620,640,660,680], "labels": false, "domain": false, "title": null, "tickSize": 7, "tickWidth": 2}},
  "fill": {"datum": "Dip S", "type": "nominal", "scale": {"domain": ["Dip G0-G1", "Dip G2-M", "Dip S"], "range": ["#737373", "#737373", "white"]},
           "legend": {"orient": "none", "legendX": 277, "legendY": 7, "title": null, "symbolType": "square", "symbolSize": 400, "symbolStrokeColor": "black", "symbolStrokeWidth": 1.5, "labelFont": "DejaVu Sans", "labelFontSize": 16, "labelOffset": 10, "rowPadding": 4}}}},
{"data": {"name": "B_G2"}, "mark": {"type": "area", "stroke": "black", "strokeWidth": 1.5},
 "encoding": {"x": {"field": "ch", "type": "quantitative", "axis": null}, "y": {"field": "n", "type": "quantitative", "stack": null, "axis": null}, "fill": {"datum": "Dip G2-M", "type": "nominal"}}},
{"data": {"name": "B_G1"}, "mark": {"type": "area", "stroke": "black", "strokeWidth": 1.5},
 "encoding": {"x": {"field": "ch", "type": "quantitative", "axis": null}, "y": {"field": "n", "type": "quantitative", "stack": null, "axis": null}, "fill": {"datum": "Dip G0-G1", "type": "nominal"}}},
{"data": {"name": "B_S"}, "mark": {"type": "area", "fill": {"gradient": "linear", "x1": 0, "y1": 1, "x2": 1.168, "y2": 0.269, "stops": [{"offset":0,"color":"#000"},{"offset":0.008,"color":"#000"},{"offset":0.008,"color":"rgba(0,0,0,0)"},{"offset":0.04,"color":"rgba(0,0,0,0)"},{"offset":0.04,"color":"#000"},{"offset":0.048,"color":"#000"},{"offset":0.048,"color":"rgba(0,0,0,0)"},{"offset":0.08,"color":"rgba(0,0,0,0)"},{"offset":0.08,"color":"#000"},{"offset":0.088,"color":"#000"},{"offset":0.088,"color":"rgba(0,0,0,0)"},{"offset":0.12,"color":"rgba(0,0,0,0)"},{"offset":0.12,"color":"#000"},{"offset":0.128,"color":"#000"},{"offset":0.128,"color":"rgba(0,0,0,0)"},{"offset":0.16,"color":"rgba(0,0,0,0)"},{"offset":0.16,"color":"#000"},{"offset":0.168,"color":"#000"},{"offset":0.168,"color":"rgba(0,0,0,0)"},{"offset":0.2,"color":"rgba(0,0,0,0)"},{"offset":0.2,"color":"#000"},{"offset":0.208,"color":"#000"},{"offset":0.208,"color":"rgba(0,0,0,0)"},{"offset":0.24,"color":"rgba(0,0,0,0)"},{"offset":0.24,"color":"#000"},{"offset":0.248,"color":"#000"},{"offset":0.248,"color":"rgba(0,0,0,0)"},{"offset":0.28,"color":"rgba(0,0,0,0)"},{"offset":0.28,"color":"#000"},{"offset":0.288,"color":"#000"},{"offset":0.288,"color":"rgba(0,0,0,0)"},{"offset":0.32,"color":"rgba(0,0,0,0)"},{"offset":0.32,"color":"#000"},{"offset":0.328,"color":"#000"},{"offset":0.328,"color":"rgba(0,0,0,0)"},{"offset":0.36,"color":"rgba(0,0,0,0)"},{"offset":0.36,"color":"#000"},{"offset":0.368,"color":"#000"},{"offset":0.368,"color":"rgba(0,0,0,0)"},{"offset":0.4,"color":"rgba(0,0,0,0)"},{"offset":0.4,"color":"#000"},{"offset":0.408,"color":"#000"},{"offset":0.408,"color":"rgba(0,0,0,0)"},{"offset":0.44,"color":"rgba(0,0,0,0)"},{"offset":0.44,"color":"#000"},{"offset":0.448,"color":"#000"},{"offset":0.448,"color":"rgba(0,0,0,0)"},{"offset":0.48,"color":"rgba(0,0,0,0)"},{"offset":0.48,"color":"#000"},{"offset":0.488,"color":"#000"},{"offset":0.488,"color":"rgba(0,0,0,0)"},{"offset":0.52,"color":"rgba(0,0,0,0)"},{"offset":0.52,"color":"#000"},{"offset":0.528,"color":"#000"},{"offset":0.528,"color":"rgba(0,0,0,0)"},{"offset":0.56,"color":"rgba(0,0,0,0)"},{"offset":0.56,"color":"#000"},{"offset":0.568,"color":"#000"},{"offset":0.568,"color":"rgba(0,0,0,0)"},{"offset":0.6,"color":"rgba(0,0,0,0)"},{"offset":0.6,"color":"#000"},{"offset":0.608,"color":"#000"},{"offset":0.608,"color":"rgba(0,0,0,0)"},{"offset":0.64,"color":"rgba(0,0,0,0)"},{"offset":0.64,"color":"#000"},{"offset":0.648,"color":"#000"},{"offset":0.648,"color":"rgba(0,0,0,0)"},{"offset":0.68,"color":"rgba(0,0,0,0)"},{"offset":0.68,"color":"#000"},{"offset":0.688,"color":"#000"},{"offset":0.688,"color":"rgba(0,0,0,0)"},{"offset":0.72,"color":"rgba(0,0,0,0)"},{"offset":0.72,"color":"#000"},{"offset":0.728,"color":"#000"},{"offset":0.728,"color":"rgba(0,0,0,0)"},{"offset":0.76,"color":"rgba(0,0,0,0)"},{"offset":0.76,"color":"#000"},{"offset":0.768,"color":"#000"},{"offset":0.768,"color":"rgba(0,0,0,0)"},{"offset":0.8,"color":"rgba(0,0,0,0)"},{"offset":0.8,"color":"#000"},{"offset":0.808,"color":"#000"},{"offset":0.808,"color":"rgba(0,0,0,0)"},{"offset":0.84,"color":"rgba(0,0,0,0)"},{"offset":0.84,"color":"#000"},{"offset":0.848,"color":"#000"},{"offset":0.848,"color":"rgba(0,0,0,0)"},{"offset":0.88,"color":"rgba(0,0,0,0)"},{"offset":0.88,"color":"#000"},{"offset":0.888,"color":"#000"},{"offset":0.888,"color":"rgba(0,0,0,0)"},{"offset":0.92,"color":"rgba(0,0,0,0)"},{"offset":0.92,"color":"#000"},{"offset":0.928,"color":"#000"},{"offset":0.928,"color":"rgba(0,0,0,0)"},{"offset":0.96,"color":"rgba(0,0,0,0)"},{"offset":0.96,"color":"#000"},{"offset":0.968,"color":"#000"},{"offset":0.968,"color":"rgba(0,0,0,0)"},{"offset":1,"color":"rgba(0,0,0,0)"}]}},
 "encoding": {"x": {"field": "ch", "type": "quantitative", "axis": null}, "y": {"field": "n", "type": "quantitative", "stack": null, "axis": null}}},
{"data": {"name": "B_G2"}, "mark": {"type": "area", "fill": {"gradient": "linear", "x1": 0, "y1": 1, "x2": 1.193, "y2": 0.641, "stops": [{"offset":0,"color":"#000"},{"offset":0.0125,"color":"#000"},{"offset":0.0125,"color":"rgba(0,0,0,0)"},{"offset":0.0625,"color":"rgba(0,0,0,0)"},{"offset":0.0625,"color":"#000"},{"offset":0.075,"color":"#000"},{"offset":0.075,"color":"rgba(0,0,0,0)"},{"offset":0.125,"color":"rgba(0,0,0,0)"},{"offset":0.125,"color":"#000"},{"offset":0.1375,"color":"#000"},{"offset":0.1375,"color":"rgba(0,0,0,0)"},{"offset":0.1875,"color":"rgba(0,0,0,0)"},{"offset":0.1875,"color":"#000"},{"offset":0.2,"color":"#000"},{"offset":0.2,"color":"rgba(0,0,0,0)"},{"offset":0.25,"color":"rgba(0,0,0,0)"},{"offset":0.25,"color":"#000"},{"offset":0.2625,"color":"#000"},{"offset":0.2625,"color":"rgba(0,0,0,0)"},{"offset":0.3125,"color":"rgba(0,0,0,0)"},{"offset":0.3125,"color":"#000"},{"offset":0.325,"color":"#000"},{"offset":0.325,"color":"rgba(0,0,0,0)"},{"offset":0.375,"color":"rgba(0,0,0,0)"},{"offset":0.375,"color":"#000"},{"offset":0.3875,"color":"#000"},{"offset":0.3875,"color":"rgba(0,0,0,0)"},{"offset":0.4375,"color":"rgba(0,0,0,0)"},{"offset":0.4375,"color":"#000"},{"offset":0.45,"color":"#000"},{"offset":0.45,"color":"rgba(0,0,0,0)"},{"offset":0.5,"color":"rgba(0,0,0,0)"},{"offset":0.5,"color":"#000"},{"offset":0.5125,"color":"#000"},{"offset":0.5125,"color":"rgba(0,0,0,0)"},{"offset":0.5625,"color":"rgba(0,0,0,0)"},{"offset":0.5625,"color":"#000"},{"offset":0.575,"color":"#000"},{"offset":0.575,"color":"rgba(0,0,0,0)"},{"offset":0.625,"color":"rgba(0,0,0,0)"},{"offset":0.625,"color":"#000"},{"offset":0.6375,"color":"#000"},{"offset":0.6375,"color":"rgba(0,0,0,0)"},{"offset":0.6875,"color":"rgba(0,0,0,0)"},{"offset":0.6875,"color":"#000"},{"offset":0.7,"color":"#000"},{"offset":0.7,"color":"rgba(0,0,0,0)"},{"offset":0.75,"color":"rgba(0,0,0,0)"},{"offset":0.75,"color":"#000"},{"offset":0.7625,"color":"#000"},{"offset":0.7625,"color":"rgba(0,0,0,0)"},{"offset":0.8125,"color":"rgba(0,0,0,0)"},{"offset":0.8125,"color":"#000"},{"offset":0.825,"color":"#000"},{"offset":0.825,"color":"rgba(0,0,0,0)"},{"offset":0.875,"color":"rgba(0,0,0,0)"},{"offset":0.875,"color":"#000"},{"offset":0.8875,"color":"#000"},{"offset":0.8875,"color":"rgba(0,0,0,0)"},{"offset":0.9375,"color":"rgba(0,0,0,0)"},{"offset":0.9375,"color":"#000"},{"offset":0.95,"color":"#000"},{"offset":0.95,"color":"rgba(0,0,0,0)"},{"offset":1,"color":"rgba(0,0,0,0)"}]}},
 "encoding": {"x": {"field": "ch", "type": "quantitative", "axis": null}, "y": {"field": "n", "type": "quantitative", "stack": null, "axis": null}}},
{"data": {"name": "B_fit"}, "mark": {"type": "line", "color": "black", "strokeWidth": 1.2},
 "encoding": {"x": {"field": "ch", "type": "quantitative", "axis": null}, "y": {"field": "n", "type": "quantitative", "stack": null, "axis": null}}},
{"data": {"values": [{}]}, "mark": {"type": "text", "text": "B", "align": "left", "baseline": "alphabetic", "font": "Liberation Serif", "fontSize": 76, "color": "black"},
 "encoding": {"x": {"datum": -88.5, "axis": null}, "y": {"datum": 656, "axis": null}}},
{"data": {"values": [{}]}, "mark": {"type": "text", "align": "left", "baseline": "top", "font": "DejaVu Sans", "fontSize": 19.5, "lineHeight": 26, "color": "black",
  "text": ["Date: 17-Mar-11 File: 11031", "Model:", "\u00a0%G0-G1: 47.11 at 43.42", "\u00a0%S:\u00a0\u00a0\u00a0\u00a0\u00a0\u00a0\u00a0\u00a040.80", "\u00a0%G2-M:\u00a0\u00a012.10 at 86.84", "\u00a0%CY:\u00a0\u00a0\u00a0\u00a0\u00a0\u00a016.80", "RCS: 4.355"]},
 "encoding": {"x": {"datum": 181.6, "axis": null}, "y": {"datum": 662, "axis": null}}}
]
},
{
"width": 610, "height": 503,
"resolve": {"axis": {"x": "independent", "y": "independent"}},
"layer": [
{"data": {"name": "C_env"}, "mark": {"type": "area", "fill": "white", "stroke": "black", "strokeWidth": 1.5},
 "encoding": {
  "x": {"field": "ch", "type": "quantitative", "scale": {"domain": [0, 200], "nice": false, "zero": false},
        "axis": {"title": "Channels (FL2-A)", "values": [0,40,80,120,160,200], "labelFont": "DejaVu Sans", "labelFontSize": 15, "labelPadding": 8, "tickSize": 13, "tickWidth": 2, "domainWidth": 2.5, "titleFont": "DejaVu Sans", "titleFontSize": 20, "titleFontWeight": "normal", "titlePadding": 2, "labelFlush": false}},
  "y": {"field": "n", "type": "quantitative", "stack": null, "scale": {"domain": [0, 192.4], "nice": false},
        "axis": {"title": "Number", "values": [0,40,80,120,160], "labelAngle": 270, "labelFont": "DejaVu Sans", "labelFontSize": 15, "labelPadding": 3, "tickSize": 7, "tickWidth": 2, "domainWidth": 2.5, "titleFont": "DejaVu Sans", "titleFontSize": 19, "titleFontWeight": "bold", "titleX": -41, "titleY": 243, "titleAngle": 270, "titleBaseline": "middle", "labelFlush": false}}}},
{"data": {"name": "C_S"}, "mark": {"type": "area", "stroke": "black", "strokeWidth": 1.5},
 "encoding": {
  "x": {"field": "ch", "type": "quantitative", "axis": {"orient": "bottom", "values": [0,8,16,24,32,40,48,56,64,72,80,88,96,104,112,120,128,136,144,152,160,168,176,184,192,200], "labels": false, "domain": false, "title": null, "tickSize": 7, "tickWidth": 2}},
  "y": {"field": "n", "type": "quantitative", "stack": null, "axis": {"orient": "left", "values": [0,8,16,24,32,40,48,56,64,72,80,88,96,104,112,120,128,136,144,152,160,168,176,184,192], "labels": false, "domain": false, "title": null, "tickSize": 7, "tickWidth": 2}},
  "fill": {"datum": "Dip S", "type": "nominal", "scale": {"domain": ["Dip G0-G1", "Dip G2-M", "Dip S"], "range": ["#737373", "#737373", "white"]},
           "legend": {"orient": "none", "legendX": 213, "legendY": -4, "title": null, "symbolType": "square", "symbolSize": 400, "symbolStrokeColor": "black", "symbolStrokeWidth": 1.5, "labelFont": "DejaVu Sans", "labelFontSize": 16, "labelOffset": 10, "rowPadding": 4}}}},
{"data": {"name": "C_G2"}, "mark": {"type": "area", "stroke": "black", "strokeWidth": 1.5},
 "encoding": {"x": {"field": "ch", "type": "quantitative", "axis": null}, "y": {"field": "n", "type": "quantitative", "stack": null, "axis": null}, "fill": {"datum": "Dip G2-M", "type": "nominal"}}},
{"data": {"name": "C_G1"}, "mark": {"type": "area", "stroke": "black", "strokeWidth": 1.5},
 "encoding": {"x": {"field": "ch", "type": "quantitative", "axis": null}, "y": {"field": "n", "type": "quantitative", "stack": null, "axis": null}, "fill": {"datum": "Dip G0-G1", "type": "nominal"}}},
{"data": {"name": "C_S"}, "mark": {"type": "area", "fill": {"gradient": "linear", "x1": 0, "y1": 1, "x2": 1.126, "y2": 0.829, "stops": [{"offset":0,"color":"#000"},{"offset":0.0125,"color":"#000"},{"offset":0.0125,"color":"rgba(0,0,0,0)"},{"offset":0.0625,"color":"rgba(0,0,0,0)"},{"offset":0.0625,"color":"#000"},{"offset":0.075,"color":"#000"},{"offset":0.075,"color":"rgba(0,0,0,0)"},{"offset":0.125,"color":"rgba(0,0,0,0)"},{"offset":0.125,"color":"#000"},{"offset":0.1375,"color":"#000"},{"offset":0.1375,"color":"rgba(0,0,0,0)"},{"offset":0.1875,"color":"rgba(0,0,0,0)"},{"offset":0.1875,"color":"#000"},{"offset":0.2,"color":"#000"},{"offset":0.2,"color":"rgba(0,0,0,0)"},{"offset":0.25,"color":"rgba(0,0,0,0)"},{"offset":0.25,"color":"#000"},{"offset":0.2625,"color":"#000"},{"offset":0.2625,"color":"rgba(0,0,0,0)"},{"offset":0.3125,"color":"rgba(0,0,0,0)"},{"offset":0.3125,"color":"#000"},{"offset":0.325,"color":"#000"},{"offset":0.325,"color":"rgba(0,0,0,0)"},{"offset":0.375,"color":"rgba(0,0,0,0)"},{"offset":0.375,"color":"#000"},{"offset":0.3875,"color":"#000"},{"offset":0.3875,"color":"rgba(0,0,0,0)"},{"offset":0.4375,"color":"rgba(0,0,0,0)"},{"offset":0.4375,"color":"#000"},{"offset":0.45,"color":"#000"},{"offset":0.45,"color":"rgba(0,0,0,0)"},{"offset":0.5,"color":"rgba(0,0,0,0)"},{"offset":0.5,"color":"#000"},{"offset":0.5125,"color":"#000"},{"offset":0.5125,"color":"rgba(0,0,0,0)"},{"offset":0.5625,"color":"rgba(0,0,0,0)"},{"offset":0.5625,"color":"#000"},{"offset":0.575,"color":"#000"},{"offset":0.575,"color":"rgba(0,0,0,0)"},{"offset":0.625,"color":"rgba(0,0,0,0)"},{"offset":0.625,"color":"#000"},{"offset":0.6375,"color":"#000"},{"offset":0.6375,"color":"rgba(0,0,0,0)"},{"offset":0.6875,"color":"rgba(0,0,0,0)"},{"offset":0.6875,"color":"#000"},{"offset":0.7,"color":"#000"},{"offset":0.7,"color":"rgba(0,0,0,0)"},{"offset":0.75,"color":"rgba(0,0,0,0)"},{"offset":0.75,"color":"#000"},{"offset":0.7625,"color":"#000"},{"offset":0.7625,"color":"rgba(0,0,0,0)"},{"offset":0.8125,"color":"rgba(0,0,0,0)"},{"offset":0.8125,"color":"#000"},{"offset":0.825,"color":"#000"},{"offset":0.825,"color":"rgba(0,0,0,0)"},{"offset":0.875,"color":"rgba(0,0,0,0)"},{"offset":0.875,"color":"#000"},{"offset":0.8875,"color":"#000"},{"offset":0.8875,"color":"rgba(0,0,0,0)"},{"offset":0.9375,"color":"rgba(0,0,0,0)"},{"offset":0.9375,"color":"#000"},{"offset":0.95,"color":"#000"},{"offset":0.95,"color":"rgba(0,0,0,0)"},{"offset":1,"color":"rgba(0,0,0,0)"}]}},
 "encoding": {"x": {"field": "ch", "type": "quantitative", "axis": null}, "y": {"field": "n", "type": "quantitative", "stack": null, "axis": null}}},
{"data": {"name": "C_G2"}, "mark": {"type": "area", "fill": {"gradient": "linear", "x1": 0, "y1": 1, "x2": 1.192, "y2": 0.647, "stops": [{"offset":0,"color":"#000"},{"offset":0.0125,"color":"#000"},{"offset":0.0125,"color":"rgba(0,0,0,0)"},{"offset":0.0625,"color":"rgba(0,0,0,0)"},{"offset":0.0625,"color":"#000"},{"offset":0.075,"color":"#000"},{"offset":0.075,"color":"rgba(0,0,0,0)"},{"offset":0.125,"color":"rgba(0,0,0,0)"},{"offset":0.125,"color":"#000"},{"offset":0.1375,"color":"#000"},{"offset":0.1375,"color":"rgba(0,0,0,0)"},{"offset":0.1875,"color":"rgba(0,0,0,0)"},{"offset":0.1875,"color":"#000"},{"offset":0.2,"color":"#000"},{"offset":0.2,"color":"rgba(0,0,0,0)"},{"offset":0.25,"color":"rgba(0,0,0,0)"},{"offset":0.25,"color":"#000"},{"offset":0.2625,"color":"#000"},{"offset":0.2625,"color":"rgba(0,0,0,0)"},{"offset":0.3125,"color":"rgba(0,0,0,0)"},{"offset":0.3125,"color":"#000"},{"offset":0.325,"color":"#000"},{"offset":0.325,"color":"rgba(0,0,0,0)"},{"offset":0.375,"color":"rgba(0,0,0,0)"},{"offset":0.375,"color":"#000"},{"offset":0.3875,"color":"#000"},{"offset":0.3875,"color":"rgba(0,0,0,0)"},{"offset":0.4375,"color":"rgba(0,0,0,0)"},{"offset":0.4375,"color":"#000"},{"offset":0.45,"color":"#000"},{"offset":0.45,"color":"rgba(0,0,0,0)"},{"offset":0.5,"color":"rgba(0,0,0,0)"},{"offset":0.5,"color":"#000"},{"offset":0.5125,"color":"#000"},{"offset":0.5125,"color":"rgba(0,0,0,0)"},{"offset":0.5625,"color":"rgba(0,0,0,0)"},{"offset":0.5625,"color":"#000"},{"offset":0.575,"color":"#000"},{"offset":0.575,"color":"rgba(0,0,0,0)"},{"offset":0.625,"color":"rgba(0,0,0,0)"},{"offset":0.625,"color":"#000"},{"offset":0.6375,"color":"#000"},{"offset":0.6375,"color":"rgba(0,0,0,0)"},{"offset":0.6875,"color":"rgba(0,0,0,0)"},{"offset":0.6875,"color":"#000"},{"offset":0.7,"color":"#000"},{"offset":0.7,"color":"rgba(0,0,0,0)"},{"offset":0.75,"color":"rgba(0,0,0,0)"},{"offset":0.75,"color":"#000"},{"offset":0.7625,"color":"#000"},{"offset":0.7625,"color":"rgba(0,0,0,0)"},{"offset":0.8125,"color":"rgba(0,0,0,0)"},{"offset":0.8125,"color":"#000"},{"offset":0.825,"color":"#000"},{"offset":0.825,"color":"rgba(0,0,0,0)"},{"offset":0.875,"color":"rgba(0,0,0,0)"},{"offset":0.875,"color":"#000"},{"offset":0.8875,"color":"#000"},{"offset":0.8875,"color":"rgba(0,0,0,0)"},{"offset":0.9375,"color":"rgba(0,0,0,0)"},{"offset":0.9375,"color":"#000"},{"offset":0.95,"color":"#000"},{"offset":0.95,"color":"rgba(0,0,0,0)"},{"offset":1,"color":"rgba(0,0,0,0)"}]}},
 "encoding": {"x": {"field": "ch", "type": "quantitative", "axis": null}, "y": {"field": "n", "type": "quantitative", "stack": null, "axis": null}}},
{"data": {"name": "C_fit"}, "mark": {"type": "line", "color": "black", "strokeWidth": 1.2},
 "encoding": {"x": {"field": "ch", "type": "quantitative", "axis": null}, "y": {"field": "n", "type": "quantitative", "stack": null, "axis": null}}},
{"data": {"values": [{}]}, "mark": {"type": "text", "text": "C", "align": "left", "baseline": "alphabetic", "font": "Liberation Serif", "fontSize": 76, "color": "black"},
 "encoding": {"x": {"datum": -66.9, "axis": null}, "y": {"datum": 187, "axis": null}}},
{"data": {"values": [{}]}, "mark": {"type": "text", "align": "left", "baseline": "top", "font": "DejaVu Sans", "fontSize": 19.5, "lineHeight": 24.8, "color": "black",
  "text": ["Date: 19-Jan-11 File: 110119.002", "Model:", "\u00a0%G0-G1: 75.14 at 38.26", "\u00a0%S:\u00a0\u00a0\u00a0\u00a0\u00a0\u00a0\u00a0\u00a012.16", "\u00a0%G2-M:\u00a0\u00a012.70 at 76.53", "\u00a0%CY:\u00a0\u00a0\u00a0\u00a0\u00a0\u00a014.11", "RCS: 1.287"]},
 "encoding": {"x": {"datum": 125.8, "axis": null}, "y": {"datum": 189.7, "axis": null}}}
]
},
{
"width": 599, "height": 521,
"resolve": {"axis": {"x": "independent", "y": "independent"}},
"layer": [
{"data": {"name": "D_env"}, "mark": {"type": "area", "fill": "white", "stroke": "black", "strokeWidth": 1.5},
 "encoding": {
  "x": {"field": "ch", "type": "quantitative", "scale": {"domain": [0, 256], "nice": false, "zero": false},
        "axis": {"title": "Channels (FL2-A)", "values": [0,50,100,150,200,250], "labelFont": "DejaVu Sans", "labelFontSize": 15, "labelPadding": 8, "tickSize": 13, "tickWidth": 2, "domainWidth": 2.5, "titleFont": "DejaVu Sans", "titleFontSize": 20, "titleFontWeight": "normal", "titlePadding": 2, "labelFlush": false}},
  "y": {"field": "n", "type": "quantitative", "stack": null, "scale": {"domain": [0, 445], "nice": false},
        "axis": {"title": "Number", "values": [0,90,180,270,360], "labelAngle": 270, "labelFont": "DejaVu Sans", "labelFontSize": 15, "labelPadding": 3, "tickSize": 7, "tickWidth": 2, "domainWidth": 2.5, "titleFont": "DejaVu Sans", "titleFontSize": 19, "titleFontWeight": "bold", "titleX": -41, "titleY": 265, "titleAngle": 270, "titleBaseline": "middle", "labelFlush": false}}}},
{"data": {"name": "D_S"}, "mark": {"type": "area", "stroke": "black", "strokeWidth": 1.5},
 "encoding": {
  "x": {"field": "ch", "type": "quantitative", "axis": {"orient": "bottom", "values": [0,10,20,30,40,50,60,70,80,90,100,110,120,130,140,150,160,170,180,190,200,210,220,230,240,250], "labels": false, "domain": false, "title": null, "tickSize": 7, "tickWidth": 2}},
  "y": {"field": "n", "type": "quantitative", "stack": null, "axis": {"orient": "left", "values": [0,18,36,54,72,90,108,126,144,162,180,198,216,234,252,270,288,306,324,342,360,378,396,414,432], "labels": false, "domain": false, "title": null, "tickSize": 7, "tickWidth": 2}},
  "fill": {"datum": "Dip S", "type": "nominal", "scale": {"domain": ["Dip G0-G1", "Dip G2-M", "Dip S"], "range": ["#737373", "#737373", "white"]},
           "legend": {"orient": "none", "legendX": 286, "legendY": -4, "title": null, "symbolType": "square", "symbolSize": 400, "symbolStrokeColor": "black", "symbolStrokeWidth": 1.5, "labelFont": "DejaVu Sans", "labelFontSize": 16, "labelOffset": 10, "rowPadding": 4}}}},
{"data": {"name": "D_G2"}, "mark": {"type": "area", "stroke": "black", "strokeWidth": 1.5},
 "encoding": {"x": {"field": "ch", "type": "quantitative", "axis": null}, "y": {"field": "n", "type": "quantitative", "stack": null, "axis": null}, "fill": {"datum": "Dip G2-M", "type": "nominal"}}},
{"data": {"name": "D_G1"}, "mark": {"type": "area", "stroke": "black", "strokeWidth": 1.5},
 "encoding": {"x": {"field": "ch", "type": "quantitative", "axis": null}, "y": {"field": "n", "type": "quantitative", "stack": null, "axis": null}, "fill": {"datum": "Dip G0-G1", "type": "nominal"}}},
{"data": {"name": "D_S"}, "mark": {"type": "area", "fill": {"gradient": "linear", "x1": 0, "y1": 1, "x2": 1.205, "y2": 0.557, "stops": [{"offset":0,"color":"#000"},{"offset":0.008,"color":"#000"},{"offset":0.008,"color":"rgba(0,0,0,0)"},{"offset":0.04,"color":"rgba(0,0,0,0)"},{"offset":0.04,"color":"#000"},{"offset":0.048,"color":"#000"},{"offset":0.048,"color":"rgba(0,0,0,0)"},{"offset":0.08,"color":"rgba(0,0,0,0)"},{"offset":0.08,"color":"#000"},{"offset":0.088,"color":"#000"},{"offset":0.088,"color":"rgba(0,0,0,0)"},{"offset":0.12,"color":"rgba(0,0,0,0)"},{"offset":0.12,"color":"#000"},{"offset":0.128,"color":"#000"},{"offset":0.128,"color":"rgba(0,0,0,0)"},{"offset":0.16,"color":"rgba(0,0,0,0)"},{"offset":0.16,"color":"#000"},{"offset":0.168,"color":"#000"},{"offset":0.168,"color":"rgba(0,0,0,0)"},{"offset":0.2,"color":"rgba(0,0,0,0)"},{"offset":0.2,"color":"#000"},{"offset":0.208,"color":"#000"},{"offset":0.208,"color":"rgba(0,0,0,0)"},{"offset":0.24,"color":"rgba(0,0,0,0)"},{"offset":0.24,"color":"#000"},{"offset":0.248,"color":"#000"},{"offset":0.248,"color":"rgba(0,0,0,0)"},{"offset":0.28,"color":"rgba(0,0,0,0)"},{"offset":0.28,"color":"#000"},{"offset":0.288,"color":"#000"},{"offset":0.288,"color":"rgba(0,0,0,0)"},{"offset":0.32,"color":"rgba(0,0,0,0)"},{"offset":0.32,"color":"#000"},{"offset":0.328,"color":"#000"},{"offset":0.328,"color":"rgba(0,0,0,0)"},{"offset":0.36,"color":"rgba(0,0,0,0)"},{"offset":0.36,"color":"#000"},{"offset":0.368,"color":"#000"},{"offset":0.368,"color":"rgba(0,0,0,0)"},{"offset":0.4,"color":"rgba(0,0,0,0)"},{"offset":0.4,"color":"#000"},{"offset":0.408,"color":"#000"},{"offset":0.408,"color":"rgba(0,0,0,0)"},{"offset":0.44,"color":"rgba(0,0,0,0)"},{"offset":0.44,"color":"#000"},{"offset":0.448,"color":"#000"},{"offset":0.448,"color":"rgba(0,0,0,0)"},{"offset":0.48,"color":"rgba(0,0,0,0)"},{"offset":0.48,"color":"#000"},{"offset":0.488,"color":"#000"},{"offset":0.488,"color":"rgba(0,0,0,0)"},{"offset":0.52,"color":"rgba(0,0,0,0)"},{"offset":0.52,"color":"#000"},{"offset":0.528,"color":"#000"},{"offset":0.528,"color":"rgba(0,0,0,0)"},{"offset":0.56,"color":"rgba(0,0,0,0)"},{"offset":0.56,"color":"#000"},{"offset":0.568,"color":"#000"},{"offset":0.568,"color":"rgba(0,0,0,0)"},{"offset":0.6,"color":"rgba(0,0,0,0)"},{"offset":0.6,"color":"#000"},{"offset":0.608,"color":"#000"},{"offset":0.608,"color":"rgba(0,0,0,0)"},{"offset":0.64,"color":"rgba(0,0,0,0)"},{"offset":0.64,"color":"#000"},{"offset":0.648,"color":"#000"},{"offset":0.648,"color":"rgba(0,0,0,0)"},{"offset":0.68,"color":"rgba(0,0,0,0)"},{"offset":0.68,"color":"#000"},{"offset":0.688,"color":"#000"},{"offset":0.688,"color":"rgba(0,0,0,0)"},{"offset":0.72,"color":"rgba(0,0,0,0)"},{"offset":0.72,"color":"#000"},{"offset":0.728,"color":"#000"},{"offset":0.728,"color":"rgba(0,0,0,0)"},{"offset":0.76,"color":"rgba(0,0,0,0)"},{"offset":0.76,"color":"#000"},{"offset":0.768,"color":"#000"},{"offset":0.768,"color":"rgba(0,0,0,0)"},{"offset":0.8,"color":"rgba(0,0,0,0)"},{"offset":0.8,"color":"#000"},{"offset":0.808,"color":"#000"},{"offset":0.808,"color":"rgba(0,0,0,0)"},{"offset":0.84,"color":"rgba(0,0,0,0)"},{"offset":0.84,"color":"#000"},{"offset":0.848,"color":"#000"},{"offset":0.848,"color":"rgba(0,0,0,0)"},{"offset":0.88,"color":"rgba(0,0,0,0)"},{"offset":0.88,"color":"#000"},{"offset":0.888,"color":"#000"},{"offset":0.888,"color":"rgba(0,0,0,0)"},{"offset":0.92,"color":"rgba(0,0,0,0)"},{"offset":0.92,"color":"#000"},{"offset":0.928,"color":"#000"},{"offset":0.928,"color":"rgba(0,0,0,0)"},{"offset":0.96,"color":"rgba(0,0,0,0)"},{"offset":0.96,"color":"#000"},{"offset":0.968,"color":"#000"},{"offset":0.968,"color":"rgba(0,0,0,0)"},{"offset":1,"color":"rgba(0,0,0,0)"}]}},
 "encoding": {"x": {"field": "ch", "type": "quantitative", "axis": null}, "y": {"field": "n", "type": "quantitative", "stack": null, "axis": null}}},
{"data": {"name": "D_fit"}, "mark": {"type": "line", "color": "black", "strokeWidth": 1.2},
 "encoding": {"x": {"field": "ch", "type": "quantitative", "axis": null}, "y": {"field": "n", "type": "quantitative", "stack": null, "axis": null}}},
{"data": {"values": [{}]}, "mark": {"type": "point", "shape": "triangle-up", "filled": true, "color": "black", "size": 180, "opacity": 1},
 "encoding": {"x": {"datum": 63, "axis": null}, "y": {"datum": -10, "axis": null}}},
{"data": {"values": [{}]}, "mark": {"type": "text", "text": "D", "align": "left", "baseline": "alphabetic", "font": "Liberation Serif", "fontSize": 76, "color": "black"},
 "encoding": {"x": {"datum": -90.2, "axis": null}, "y": {"datum": 407.4, "axis": null}}},
{"data": {"values": [{}]}, "mark": {"type": "text", "text": "E", "align": "left", "baseline": "alphabetic", "font": "Liberation Serif", "fontSize": 76, "color": "black"},
 "encoding": {"x": {"datum": -92.7, "axis": null}, "y": {"datum": -216, "axis": null}}},
{"data": {"values": [{}]}, "mark": {"type": "text", "align": "left", "baseline": "top", "font": "DejaVu Sans", "fontSize": 19.5, "lineHeight": 24.8, "color": "black",
  "text": ["Date: 19-Jan-11 File: 110119.005", "Model:", "\u00a0%G0-G1: 65.11 at 51.43", "\u00a0%S:\u00a0\u00a0\u00a0\u00a0\u00a0\u00a0\u00a0\u00a032.07", "\u00a0%G2-M:\u00a0\u00a02.82 at 102.86", "\u00a0%CY:\u00a0\u00a0\u00a0\u00a0\u00a0\u00a019.04", "RCS: 4.181"]},
 "encoding": {"x": {"datum": 192, "axis": null}, "y": {"datum": 438.5, "axis": null}}}
]
},
{
"width": 904, "height": 492,
"data": {"name": "E"},
"layer": [
{"mark": {"type": "bar", "stroke": "black", "strokeWidth": 5},
 "encoding": {
  "x": {"field": "phase", "type": "nominal", "sort": ["G0-G1", "S", "G2-M"], "scale": {"range": [-20, 904], "paddingInner": 0.222, "paddingOuter": 0.1085},
        "axis": {"title": null, "labelAngle": 0, "labelFont": "Liberation Serif", "labelFontSize": 44, "labelFontWeight": "bold", "labelPadding": 4, "tickSize": 15, "tickWidth": 4, "domainWidth": 4}},
  "xOffset": {"field": "group", "type": "nominal", "sort": ["MCF-7 SP let-7a", "MCF-7 control", "T47-D SP let-7a", "T47-D control"], "scale": {"paddingInner": 0.364, "paddingOuter": 0}},
  "y": {"field": "mean", "type": "quantitative", "scale": {"domain": [0, 102], "nice": false},
        "axis": {"title": "% cells in cell cycle", "values": [0, 20, 40, 60, 80, 100], "offset": 20, "labelFont": "Liberation Sans", "labelFontSize": 38, "labelFontWeight": "bold", "labelPadding": 4, "tickSize": 17, "tickWidth": 4, "domainWidth": 4, "titleFont": "Liberation Serif", "titleFontSize": 44, "titleFontWeight": "normal", "titleX": -151, "titleY": 246, "titleAngle": 270, "titleBaseline": "middle"}},
  "fill": {"field": "group", "type": "nominal", "scale": {"domain": ["MCF-7 SP let-7a", "MCF-7 control", "T47-D SP let-7a", "T47-D control"], "range": ["#7a7a7a", "white", "#b5b5b5", "white"]},
           "legend": {"orient": "none", "legendX": 422, "legendY": -19, "title": null, "symbolType": "M-1,-0.43H1V0.43H-1Z", "symbolSize": 4900, "symbolStrokeColor": "black", "symbolStrokeWidth": 4, "labelFont": "Liberation Serif", "labelFontSize": 46, "labelOffset": 34, "labelLimit": 600, "rowPadding": -7}}}},
{"transform": [{"filter": "datum.group === 'T47-D SP let-7a' && datum.phase === 'G0-G1'"}],
 "mark": {"type": "bar", "stroke": "black", "strokeWidth": 5, "fill": {"gradient": "linear", "x1": 0, "y1": 0, "x2": 0, "y2": 1, "stops": [{"offset":0,"color":"#fff"},{"offset":0.018,"color":"#fff"},{"offset":0.018,"color":"#000"},{"offset":0.025,"color":"#000"},{"offset":0.025,"color":"#fff"},{"offset":0.043,"color":"#fff"},{"offset":0.043,"color":"#000"},{"offset":0.05,"color":"#000"},{"offset":0.05,"color":"#fff"},{"offset":0.068,"color":"#fff"},{"offset":0.068,"color":"#000"},{"offset":0.075,"color":"#000"},{"offset":0.075,"color":"#fff"},{"offset":0.093,"color":"#fff"},{"offset":0.093,"color":"#000"},{"offset":0.1,"color":"#000"},{"offset":0.1,"color":"#fff"},{"offset":0.118,"color":"#fff"},{"offset":0.118,"color":"#000"},{"offset":0.125,"color":"#000"},{"offset":0.125,"color":"#fff"},{"offset":0.143,"color":"#fff"},{"offset":0.143,"color":"#000"},{"offset":0.15,"color":"#000"},{"offset":0.15,"color":"#fff"},{"offset":0.168,"color":"#fff"},{"offset":0.168,"color":"#000"},{"offset":0.175,"color":"#000"},{"offset":0.175,"color":"#fff"},{"offset":0.193,"color":"#fff"},{"offset":0.193,"color":"#000"},{"offset":0.2,"color":"#000"},{"offset":0.2,"color":"#fff"},{"offset":0.218,"color":"#fff"},{"offset":0.218,"color":"#000"},{"offset":0.225,"color":"#000"},{"offset":0.225,"color":"#fff"},{"offset":0.243,"color":"#fff"},{"offset":0.243,"color":"#000"},{"offset":0.25,"color":"#000"},{"offset":0.25,"color":"#fff"},{"offset":0.268,"color":"#fff"},{"offset":0.268,"color":"#000"},{"offset":0.275,"color":"#000"},{"offset":0.275,"color":"#fff"},{"offset":0.293,"color":"#fff"},{"offset":0.293,"color":"#000"},{"offset":0.3,"color":"#000"},{"offset":0.3,"color":"#fff"},{"offset":0.318,"color":"#fff"},{"offset":0.318,"color":"#000"},{"offset":0.325,"color":"#000"},{"offset":0.325,"color":"#fff"},{"offset":0.343,"color":"#fff"},{"offset":0.343,"color":"#000"},{"offset":0.35,"color":"#000"},{"offset":0.35,"color":"#fff"},{"offset":0.368,"color":"#fff"},{"offset":0.368,"color":"#000"},{"offset":0.375,"color":"#000"},{"offset":0.375,"color":"#fff"},{"offset":0.393,"color":"#fff"},{"offset":0.393,"color":"#000"},{"offset":0.4,"color":"#000"},{"offset":0.4,"color":"#fff"},{"offset":0.418,"color":"#fff"},{"offset":0.418,"color":"#000"},{"offset":0.425,"color":"#000"},{"offset":0.425,"color":"#fff"},{"offset":0.443,"color":"#fff"},{"offset":0.443,"color":"#000"},{"offset":0.45,"color":"#000"},{"offset":0.45,"color":"#fff"},{"offset":0.468,"color":"#fff"},{"offset":0.468,"color":"#000"},{"offset":0.475,"color":"#000"},{"offset":0.475,"color":"#fff"},{"offset":0.493,"color":"#fff"},{"offset":0.493,"color":"#000"},{"offset":0.5,"color":"#000"},{"offset":0.5,"color":"#fff"},{"offset":0.518,"color":"#fff"},{"offset":0.518,"color":"#000"},{"offset":0.525,"color":"#000"},{"offset":0.525,"color":"#fff"},{"offset":0.543,"color":"#fff"},{"offset":0.543,"color":"#000"},{"offset":0.55,"color":"#000"},{"offset":0.55,"color":"#fff"},{"offset":0.568,"color":"#fff"},{"offset":0.568,"color":"#000"},{"offset":0.575,"color":"#000"},{"offset":0.575,"color":"#fff"},{"offset":0.593,"color":"#fff"},{"offset":0.593,"color":"#000"},{"offset":0.6,"color":"#000"},{"offset":0.6,"color":"#fff"},{"offset":0.618,"color":"#fff"},{"offset":0.618,"color":"#000"},{"offset":0.625,"color":"#000"},{"offset":0.625,"color":"#fff"},{"offset":0.643,"color":"#fff"},{"offset":0.643,"color":"#000"},{"offset":0.65,"color":"#000"},{"offset":0.65,"color":"#fff"},{"offset":0.668,"color":"#fff"},{"offset":0.668,"color":"#000"},{"offset":0.675,"color":"#000"},{"offset":0.675,"color":"#fff"},{"offset":0.693,"color":"#fff"},{"offset":0.693,"color":"#000"},{"offset":0.7,"color":"#000"},{"offset":0.7,"color":"#fff"},{"offset":0.718,"color":"#fff"},{"offset":0.718,"color":"#000"},{"offset":0.725,"color":"#000"},{"offset":0.725,"color":"#fff"},{"offset":0.743,"color":"#fff"},{"offset":0.743,"color":"#000"},{"offset":0.75,"color":"#000"},{"offset":0.75,"color":"#fff"},{"offset":0.768,"color":"#fff"},{"offset":0.768,"color":"#000"},{"offset":0.775,"color":"#000"},{"offset":0.775,"color":"#fff"},{"offset":0.793,"color":"#fff"},{"offset":0.793,"color":"#000"},{"offset":0.8,"color":"#000"},{"offset":0.8,"color":"#fff"},{"offset":0.818,"color":"#fff"},{"offset":0.818,"color":"#000"},{"offset":0.825,"color":"#000"},{"offset":0.825,"color":"#fff"},{"offset":0.843,"color":"#fff"},{"offset":0.843,"color":"#000"},{"offset":0.85,"color":"#000"},{"offset":0.85,"color":"#fff"},{"offset":0.868,"color":"#fff"},{"offset":0.868,"color":"#000"},{"offset":0.875,"color":"#000"},{"offset":0.875,"color":"#fff"},{"offset":0.893,"color":"#fff"},{"offset":0.893,"color":"#000"},{"offset":0.9,"color":"#000"},{"offset":0.9,"color":"#fff"},{"offset":0.918,"color":"#fff"},{"offset":0.918,"color":"#000"},{"offset":0.925,"color":"#000"},{"offset":0.925,"color":"#fff"},{"offset":0.943,"color":"#fff"},{"offset":0.943,"color":"#000"},{"offset":0.95,"color":"#000"},{"offset":0.95,"color":"#fff"},{"offset":0.968,"color":"#fff"},{"offset":0.968,"color":"#000"},{"offset":0.975,"color":"#000"},{"offset":0.975,"color":"#fff"},{"offset":1,"color":"#fff"}]}},
 "encoding": {
  "x": {"field": "phase", "type": "nominal", "sort": ["G0-G1", "S", "G2-M"]},
  "xOffset": {"field": "group", "type": "nominal", "sort": ["MCF-7 SP let-7a", "MCF-7 control", "T47-D SP let-7a", "T47-D control"]},
  "y": {"field": "mean", "type": "quantitative"}}},
{"transform": [{"filter": "datum.group === 'T47-D SP let-7a' && datum.phase === 'S'"}],
 "mark": {"type": "bar", "stroke": "black", "strokeWidth": 5, "fill": {"gradient": "linear", "x1": 0, "y1": 0, "x2": 0, "y2": 1, "stops": [{"offset":0,"color":"#fff"},{"offset":0.122,"color":"#fff"},{"offset":0.122,"color":"#000"},{"offset":0.1667,"color":"#000"},{"offset":0.1667,"color":"#fff"},{"offset":0.2883,"color":"#fff"},{"offset":0.2883,"color":"#000"},{"offset":0.3333,"color":"#000"},{"offset":0.3333,"color":"#fff"},{"offset":0.455,"color":"#fff"},{"offset":0.455,"color":"#000"},{"offset":0.5,"color":"#000"},{"offset":0.5,"color":"#fff"},{"offset":0.6217,"color":"#fff"},{"offset":0.6217,"color":"#000"},{"offset":0.6667,"color":"#000"},{"offset":0.6667,"color":"#fff"},{"offset":0.7883,"color":"#fff"},{"offset":0.7883,"color":"#000"},{"offset":0.8333,"color":"#000"},{"offset":0.8333,"color":"#fff"},{"offset":0.955,"color":"#fff"},{"offset":0.955,"color":"#000"},{"offset":1,"color":"#000"}]}},
 "encoding": {
  "x": {"field": "phase", "type": "nominal", "sort": ["G0-G1", "S", "G2-M"]},
  "xOffset": {"field": "group", "type": "nominal", "sort": ["MCF-7 SP let-7a", "MCF-7 control", "T47-D SP let-7a", "T47-D control"]},
  "y": {"field": "mean", "type": "quantitative"}}},
{"transform": [{"filter": "datum.group === 'T47-D SP let-7a' && datum.phase === 'G2-M'"}],
 "mark": {"type": "bar", "stroke": "black", "strokeWidth": 5, "fill": {"gradient": "linear", "x1": 0, "y1": 0, "x2": 0, "y2": 1, "stops": [{"offset":0,"color":"#fff"},{"offset":0.146,"color":"#fff"},{"offset":0.146,"color":"#000"},{"offset":0.2,"color":"#000"},{"offset":0.2,"color":"#fff"},{"offset":0.346,"color":"#fff"},{"offset":0.346,"color":"#000"},{"offset":0.4,"color":"#000"},{"offset":0.4,"color":"#fff"},{"offset":0.546,"color":"#fff"},{"offset":0.546,"color":"#000"},{"offset":0.6,"color":"#000"},{"offset":0.6,"color":"#fff"},{"offset":0.746,"color":"#fff"},{"offset":0.746,"color":"#000"},{"offset":0.8,"color":"#000"},{"offset":0.8,"color":"#fff"},{"offset":0.946,"color":"#fff"},{"offset":0.946,"color":"#000"},{"offset":1,"color":"#000"}]}},
 "encoding": {
  "x": {"field": "phase", "type": "nominal", "sort": ["G0-G1", "S", "G2-M"]},
  "xOffset": {"field": "group", "type": "nominal", "sort": ["MCF-7 SP let-7a", "MCF-7 control", "T47-D SP let-7a", "T47-D control"]},
  "y": {"field": "mean", "type": "quantitative"}}},
{"transform": [{"filter": "datum.group === 'T47-D control'"}],
 "mark": {"type": "bar", "stroke": "black", "strokeWidth": 5, "fill": {"gradient": "linear", "x1": 0, "y1": 0, "x2": 1, "y2": 0, "stops": [{"offset":0,"color":"#fff"},{"offset":0.47,"color":"#fff"},{"offset":0.47,"color":"#000"},{"offset":0.53,"color":"#000"},{"offset":0.53,"color":"#fff"},{"offset":1,"color":"#fff"}]}},
 "encoding": {
  "x": {"field": "phase", "type": "nominal", "sort": ["G0-G1", "S", "G2-M"]},
  "xOffset": {"field": "group", "type": "nominal", "sort": ["MCF-7 SP let-7a", "MCF-7 control", "T47-D SP let-7a", "T47-D control"]},
  "y": {"field": "mean", "type": "quantitative"}}},
{"mark": {"type": "rule", "strokeWidth": 4, "color": "black"},
 "encoding": {
  "x": {"field": "phase", "type": "nominal", "sort": ["G0-G1", "S", "G2-M"]},
  "xOffset": {"field": "group", "type": "nominal", "sort": ["MCF-7 SP let-7a", "MCF-7 control", "T47-D SP let-7a", "T47-D control"]},
  "y": {"field": "mean", "type": "quantitative"}, "y2": {"field": "hi"}}},
{"mark": {"type": "tick", "thickness": 4, "size": 27, "color": "black", "opacity": 1},
 "encoding": {
  "x": {"field": "phase", "type": "nominal", "sort": ["G0-G1", "S", "G2-M"]},
  "xOffset": {"field": "group", "type": "nominal", "sort": ["MCF-7 SP let-7a", "MCF-7 control", "T47-D SP let-7a", "T47-D control"]},
  "y": {"field": "hi", "type": "quantitative"}}},
{"mark": {"type": "text", "font": "Liberation Sans", "fontSize": 40, "fontWeight": "bold", "baseline": "alphabetic", "color": "black"},
 "encoding": {
  "x": {"field": "phase", "type": "nominal", "sort": ["G0-G1", "S", "G2-M"]},
  "xOffset": {"field": "group", "type": "nominal", "sort": ["MCF-7 SP let-7a", "MCF-7 control", "T47-D SP let-7a", "T47-D control"]},
  "y": {"field": "hi", "type": "quantitative"}, "text": {"field": "sig"}}}
]
}
]
}
